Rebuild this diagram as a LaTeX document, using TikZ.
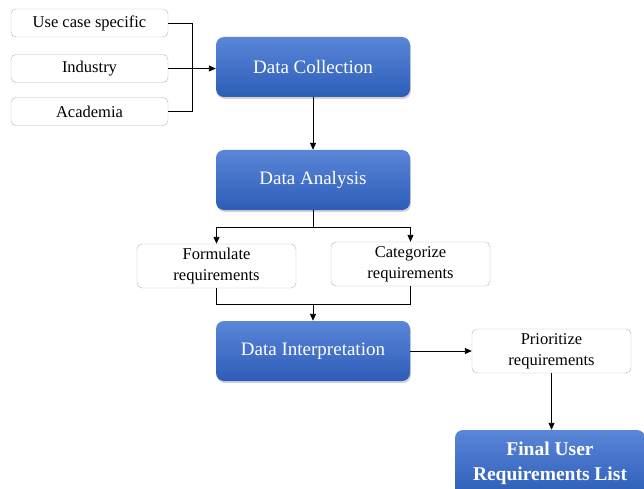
\documentclass[tikz,border=0pt]{standalone}
\usepackage{fontspec}
\setmainfont{Liberation Serif}
\usetikzlibrary{arrows.meta,shadows}
\definecolor{bluetop}{HTML}{5A86D8}
\definecolor{bluebot}{HTML}{2D5DB8}
\tikzset{
  bluebox/.style={rounded corners=8pt, top color=bluetop, bottom color=bluebot, draw=none,
    text=white, align=center, font=\fontsize{19}{22}\selectfont,
    drop shadow={opacity=0.35, shadow xshift=1pt, shadow yshift=-2pt}},
  whitebox/.style={rounded corners=5pt, draw=black!30, fill=white, align=center,
    font=\fontsize{16.5}{21}\selectfont, inner sep=0pt},
  conn/.style={draw=black, line width=0.9pt},
  arr/.style={conn, -{Triangle[length=7pt,width=6pt]}}
}
\begin{document}
\begin{tikzpicture}[x=1pt,y=-1pt]
\useasboundingbox (0,0) rectangle (644,489);
\clip (0,0) rectangle (644,489);
% source boxes
\node[whitebox, minimum width=157pt, minimum height=28pt] (uc) at (89.5,23) {Use case specific};
\node[whitebox, minimum width=157pt, minimum height=28pt] (ind) at (89.5,68.5) {Industry};
\node[whitebox, minimum width=157pt, minimum height=28pt] (aca) at (89.5,111.5) {Academia};
% main blue boxes
\node[bluebox, minimum width=194pt, minimum height=60pt] (dc) at (313,67) {Data Collection};
\node[bluebox, minimum width=194pt, minimum height=60pt] (da) at (313,180) {Data Analysis};
\node[bluebox, minimum width=194pt, minimum height=60pt] (di) at (313,351) {Data Interpretation};
\node[bluebox, minimum width=190pt, minimum height=66pt, font=\bfseries\fontsize{19.5}{25}\selectfont] (fin) at (550,463) {Final User\\Requirements List};
% requirement boxes
\node[whitebox, minimum width=159pt, minimum height=44pt] (form) at (216.5,266) {Formulate\\requirements};
\node[whitebox, minimum width=159pt, minimum height=44pt] (cat) at (410.5,264) {Categorize\\requirements};
\node[whitebox, minimum width=159pt, minimum height=44pt] (pri) at (551.5,351) {Prioritize\\requirements};
% coordinates
\coordinate (mx) at (192,68.5);
\coordinate (sa) at (313,227);
\coordinate (sb) at (313,304);
% connectors
\draw[conn] (uc.east) -| (mx);
\draw[conn] (aca.east) -| (mx);
\draw[arr] (ind.east) -- (dc.west |- ind.east);
\draw[arr] (dc.south) -- (da.north);
\draw[conn] (da.south) -- (sa);
\draw[arr] (sa) -| (form.north);
\draw[arr] (sa) -| (cat.north);
\draw[conn] (form.south) |- (sb);
\draw[conn] (cat.south) |- (sb);
\draw[arr] (sb) -- (di.north);
\draw[arr] (di.east) -- (pri.west);
\draw[arr] (pri.south) -- (pri.south |- fin.north);
\end{tikzpicture}
\end{document}
